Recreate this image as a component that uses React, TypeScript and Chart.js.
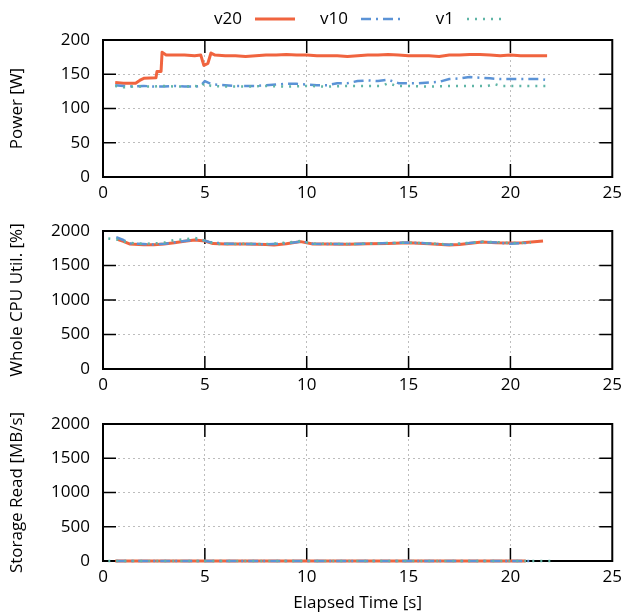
import React, { useEffect, useRef } from "react";
import { Chart, registerables } from "chart.js";

Chart.register(...registerables);

// ---------- data ----------
const seriesNames = ["v20", "v10", "v1"];
const seriesColors = ["#f0643f", "#5b93d6", "#5fb5a6"];
const seriesDash: number[][] = [[], [10, 5, 2, 5], [2, 6]];
const seriesWidth = [3, 2.5, 2.5];

const xMin = 0;
const xMax = 25;
const xStep = 5;

// Power [W]
const powerTimeV20 = [0.6, 1.0, 1.6, 1.8, 2.0, 2.6, 2.65, 2.85, 2.9, 3.1, 3.5, 4.0, 4.5, 4.8, 4.95, 5.15, 5.3, 5.5, 6.0, 6.5, 7.0, 7.5, 8.0, 8.5, 9.0, 9.5, 10.0, 10.5, 11.0, 11.5, 12.0, 12.5, 13.0, 13.5, 14.0, 14.5, 15.0, 15.5, 16.0, 16.5, 17.0, 17.5, 18.0, 18.5, 19.0, 19.5, 20.0, 20.5, 21.0, 21.5, 21.8];
const powerV20 = [138, 137, 137, 141, 144, 145, 154, 154, 182, 178, 178, 178, 177, 178, 163, 166, 181, 178, 177, 177, 176, 177, 178, 178, 179, 178, 178, 177, 177, 177, 176, 177, 178, 178, 179, 178, 177, 177, 177, 176, 178, 178, 179, 179, 178, 177, 178, 177, 177, 177, 177];
const powerTimeV10 = [0.6, 1.0, 1.5, 2.0, 2.5, 3.0, 3.5, 4.0, 4.5, 4.8, 5.0, 5.3, 5.5, 6.0, 6.5, 7.0, 7.5, 8.0, 8.5, 9.0, 9.5, 10.0, 10.5, 11.0, 11.5, 12.0, 12.5, 13.0, 13.5, 14.0, 14.5, 15.0, 15.5, 16.0, 16.5, 17.0, 17.5, 18.0, 18.5, 19.0, 19.5, 20.0, 20.5, 21.0, 21.5, 21.7];
const powerV10 = [134, 133, 132, 133, 132, 132, 133, 132, 132, 133, 140, 136, 135, 134, 133, 133, 133, 134, 135, 136, 136, 135, 134, 134, 137, 137, 140, 141, 140, 142, 137, 137, 137, 138, 139, 143, 144, 146, 145, 144, 143, 143, 143, 143, 143, 142];
const powerTimeV1 = [0.6, 1.0, 1.5, 2.0, 2.5, 3.0, 3.5, 4.0, 4.5, 4.8, 5.0, 5.3, 6.0, 7.0, 8.0, 9.0, 10.0, 11.0, 12.0, 13.0, 13.7, 14.0, 14.4, 15.0, 16.0, 17.0, 18.0, 18.9, 19.2, 19.5, 20.0, 21.0, 22.0];
const powerV1 = [133, 131, 132, 132, 132, 133, 132, 132, 133, 132, 137, 133, 132, 132, 133, 132, 133, 132, 133, 133, 133, 137, 133, 133, 132, 133, 133, 133, 136, 133, 133, 133, 133];

// Whole CPU Util. [%]
const cpuTimeV20 = [0.7, 1.0, 1.3, 2.0, 2.5, 3.0, 3.5, 4.0, 4.5, 5.0, 5.4, 6.0, 7.0, 8.0, 8.4, 9.0, 9.7, 10.3, 11.0, 12.0, 13.0, 14.0, 15.0, 16.0, 17.0, 17.5, 18.6, 19.3, 20.0, 20.6, 21.6];
const cpuV20 = [1880, 1850, 1812, 1800, 1800, 1810, 1830, 1850, 1870, 1855, 1818, 1812, 1810, 1805, 1797, 1815, 1846, 1812, 1810, 1808, 1815, 1820, 1830, 1815, 1797, 1805, 1840, 1830, 1825, 1830, 1855];
const cpuTimeV10 = [0.65, 1.0, 1.3, 2.0, 2.5, 3.0, 3.5, 4.0, 4.5, 4.8, 5.2, 6.0, 7.0, 8.0, 9.0, 9.8, 10.3, 11.0, 12.0, 13.0, 14.0, 15.0, 16.0, 17.0, 18.0, 18.6, 19.5, 20.0, 21.0];
const cpuV10 = [1910, 1870, 1820, 1810, 1805, 1815, 1835, 1855, 1875, 1880, 1840, 1815, 1812, 1808, 1820, 1850, 1815, 1810, 1810, 1815, 1825, 1832, 1820, 1800, 1825, 1840, 1830, 1815, 1830];
const cpuTimeV1 = [0.26, 0.8, 1.2, 2.0, 2.5, 3.0, 3.5, 4.0, 4.5, 5.0, 5.5, 6.0, 7.0, 8.0, 9.0, 9.7, 10.3, 11.0, 12.0, 13.0, 14.0, 15.0, 16.0, 17.0, 18.0, 18.6, 19.5, 20.0, 21.0];
const cpuV1 = [1890, 1870, 1830, 1815, 1820, 1830, 1870, 1880, 1900, 1860, 1815, 1810, 1815, 1810, 1830, 1855, 1815, 1815, 1812, 1815, 1825, 1830, 1820, 1805, 1830, 1845, 1835, 1825, 1830];

// Storage Read [MB/s]
const readTimeV20 = [0.6, 5.0, 10.0, 15.0, 20.75];
const readV20 = [0, 0, 0, 0, 0];
const readTimeV10 = [0.65, 5.0, 10.0, 15.0, 21.1];
const readV10 = [0, 0, 0, 0, 0];
const readTimeV1 = [0.26, 5.0, 10.0, 15.0, 22.1];
const readV1 = [0, 0, 0, 0, 0];

const yTitles = ["Power [W]", "Whole CPU Util. [%]", "Storage Read [MB/s]"];
const yMaxes = [200, 2000, 2000];
const ySteps = [50, 500, 500];
const xTitle = "Elapsed Time [s]";

// ---------- plugins ----------
const FONT = "'Open Sans', 'Noto Sans', sans-serif";
const TICK_LEN = 13;

const framePlugin = {
  id: "gnuFrame",
  beforeDatasetsDraw(chart: any) {
    const { ctx, chartArea } = chart;
    const { left, right, top, bottom } = chartArea;
    const xs = chart.scales.x;
    const ys = chart.scales.y;
    ctx.save();
    ctx.setLineDash([]);
    ctx.strokeStyle = "#000";
    ctx.lineWidth = 1.5;
    ctx.beginPath();
    xs.ticks.forEach((t: any) => {
      if (t.value <= xs.min || t.value >= xs.max) return;
      const px = xs.getPixelForValue(t.value);
      ctx.moveTo(px, bottom);
      ctx.lineTo(px, bottom - TICK_LEN);
      ctx.moveTo(px, top);
      ctx.lineTo(px, top + TICK_LEN);
    });
    ys.ticks.forEach((t: any) => {
      if (t.value <= ys.min || t.value >= ys.max) return;
      const py = ys.getPixelForValue(t.value);
      ctx.moveTo(left, py);
      ctx.lineTo(left + TICK_LEN, py);
      ctx.moveTo(right, py);
      ctx.lineTo(right - TICK_LEN, py);
    });
    ctx.stroke();
    ctx.lineWidth = 2;
    ctx.strokeRect(left, top, right - left, bottom - top);
    ctx.restore();
  },
};

const legendPlugin = {
  id: "gnuLegend",
  afterDraw(chart: any) {
    const { ctx } = chart;
    ctx.save();
    ctx.font = `17px ${FONT}`;
    ctx.textAlign = "right";
    ctx.textBaseline = "middle";
    ctx.fillStyle = "#000";
    chart.data.datasets.forEach((ds: any, i: number) => {
      const tr = 242 + i * 106;
      const y = 19;
      ctx.fillText(ds.label, tr, y);
      ctx.strokeStyle = ds.borderColor;
      ctx.lineWidth = ds.borderWidth;
      ctx.setLineDash(ds.borderDash);
      ctx.lineCap = "butt";
      ctx.beginPath();
      ctx.moveTo(tr + 13, y);
      ctx.lineTo(tr + 53, y);
      ctx.stroke();
    });
    ctx.restore();
  },
};

type Panel = {
  times: number[][];
  values: number[][];
  yTitle: string;
  yMax: number;
  yStep: number;
  padTop: number;
  xAxisH: number;
  showXTitle: boolean;
  legend: boolean;
};

function buildConfig(p: Panel): any {
  const font = { family: FONT, size: 17 };
  const plain = (v: any) => String(v);
  return {
    type: "line",
    data: {
      datasets: p.times.map((ts, i) => ({
        label: seriesNames[i],
        data: ts.map((t, j) => ({ x: t, y: p.values[i][j] })),
        borderColor: seriesColors[i],
        borderWidth: seriesWidth[i],
        borderDash: seriesDash[i],
        borderCapStyle: "butt",
        borderJoinStyle: "round",
        pointRadius: 0,
        pointHoverRadius: 0,
        tension: 0,
        fill: false,
        order: 3 - i,
        clip: false,
      })),
    },
    options: {
      animation: false,
      responsive: false,
      events: [],
      layout: { padding: { top: p.padTop, right: 13, left: 0, bottom: 0 } },
      plugins: {
        legend: { display: false },
        tooltip: { enabled: false },
      },
      scales: {
        x: {
          type: "linear",
          min: xMin,
          max: xMax,
          ticks: { stepSize: xStep, padding: 6, color: "#000", font, maxRotation: 0, callback: plain },
          grid: { color: "#bdbdbd", lineWidth: 1, drawTicks: false },
          border: { display: false, dash: [2, 3] },
          title: {
            display: p.showXTitle,
            text: xTitle,
            color: "#000",
            font,
            padding: { top: 0, bottom: 3 },
          },
          afterFit: (s: any) => {
            s.height = p.xAxisH;
          },
        },
        y: {
          type: "linear",
          min: 0,
          max: p.yMax,
          ticks: { stepSize: p.yStep, padding: 13, color: "#000", font, callback: plain },
          grid: { color: "#bdbdbd", lineWidth: 1, drawTicks: false },
          border: { display: false, dash: [2, 3] },
          title: {
            display: true,
            text: p.yTitle,
            color: "#000",
            font,
            padding: { top: 7, bottom: 0 },
          },
          afterFit: (s: any) => {
            s.width = 103;
          },
        },
      },
    },
    plugins: p.legend ? [framePlugin, legendPlugin] : [framePlugin],
  };
}

const panels: Panel[] = [
  {
    times: [powerTimeV20, powerTimeV10, powerTimeV1],
    values: [powerV20, powerV10, powerV1],
    yTitle: yTitles[0],
    yMax: yMaxes[0],
    yStep: ySteps[0],
    padTop: 40,
    xAxisH: 28,
    showXTitle: false,
    legend: true,
  },
  {
    times: [cpuTimeV20, cpuTimeV10, cpuTimeV1],
    values: [cpuV20, cpuV10, cpuV1],
    yTitle: yTitles[1],
    yMax: yMaxes[1],
    yStep: ySteps[1],
    padTop: 26,
    xAxisH: 31,
    showXTitle: false,
    legend: false,
  },
  {
    times: [readTimeV20, readTimeV10, readTimeV1],
    values: [readV20, readV10, readV1],
    yTitle: yTitles[2],
    yMax: yMaxes[2],
    yStep: ySteps[2],
    padTop: 24,
    xAxisH: 55,
    showXTitle: true,
    legend: false,
  },
];

const canvasTops = [0, 205, 400];
const canvasHeights = [205, 195, 216];

export default function App() {
  const r0 = useRef<HTMLCanvasElement>(null);
  const r1 = useRef<HTMLCanvasElement>(null);
  const r2 = useRef<HTMLCanvasElement>(null);
  const refs = [r0, r1, r2];

  useEffect(() => {
    const charts: Chart[] = [];
    refs.forEach((r, i) => {
      if (r.current) charts.push(new Chart(r.current, buildConfig(panels[i])));
    });
    return () => charts.forEach((c) => c.destroy());
  }, []);

  return (
    <div style={{ position: "absolute", left: 0, top: 0, width: 628, height: 616, background: "#fff" }}>
      {refs.map((r, i) => (
        <canvas
          key={i}
          ref={r}
          width={628}
          height={canvasHeights[i]}
          style={{ position: "absolute", left: 0, top: canvasTops[i], width: 628, height: canvasHeights[i] }}
        />
      ))}
    </div>
  );
}
